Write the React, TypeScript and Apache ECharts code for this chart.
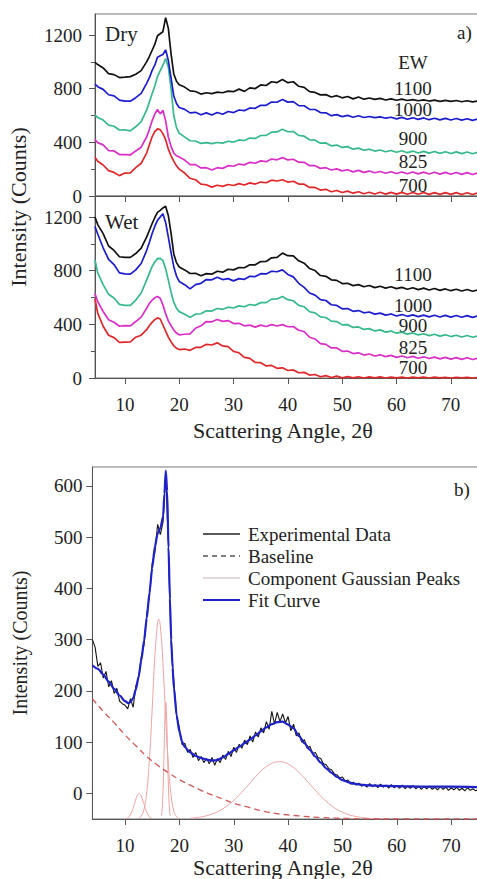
import { useEffect, useRef } from 'react';
import * as echarts from 'echarts';

const FONT = 'Liberation Serif';

// ---------- panel a: common angle samples ----------
const xA = [
  4.5, 5, 6, 7, 8, 9, 10, 11, 12, 13,
  14, 14.5, 15, 15.5, 16, 16.5, 17, 17.5, 18, 18.5, 19, 19.5, 20,
  21, 22, 23, 24, 25, 26, 27, 28, 29, 30,
  31, 32, 33, 34, 35, 36, 37, 38, 39, 40,
  41, 42, 43, 44, 45, 46, 47, 48, 49, 50,
  51, 52, 53, 54, 55, 56, 57, 58, 59, 60,
  61, 62, 63, 64, 65, 66, 67, 68, 69, 70,
  71, 72, 73, 74, 75,
];

const ewLabels = ['1100', '1000', '900', '825', '700'];
const ewColors = ['#111111', '#1c1ccf', '#36b98a', '#d92fc6', '#e0282a'];

const dry1100 = [
  996, 980, 955, 912, 905, 883, 886, 890, 908, 935,
  1000, 1040, 1085, 1130, 1195, 1210, 1225, 1330, 1250, 1060, 910, 855, 830,
  812, 784, 779, 760, 770, 763, 774, 770, 782, 778,
  797, 780, 806, 801, 828, 824, 852, 846, 868, 845,
  852, 818, 810, 778, 772, 754, 756, 738, 748, 732,
  742, 724, 738, 722, 731, 720, 728, 716, 724, 714,
  722, 712, 719, 710, 717, 708, 715, 706, 713, 705,
  712, 703, 710, 702, 708,
];
const dry1000 = [
  835, 815, 795, 755, 746, 715, 707, 707, 733, 765,
  840, 880, 935, 975, 1035, 1045, 1055, 1090, 1010, 880, 745, 690, 660,
  646, 620, 624, 606, 620, 604, 623, 610, 630, 622,
  641, 636, 656, 654, 676, 676, 701, 699, 720, 700,
  704, 674, 673, 646, 645, 622, 620, 599, 607, 592,
  601, 587, 598, 585, 593, 584, 590, 580, 587, 575,
  586, 572, 583, 571, 582, 569, 580, 568, 579, 567,
  578, 566, 576, 564, 575,
];
const dry900 = [
  605, 585, 566, 529, 520, 492, 494, 486, 516, 554,
  640, 700, 760, 820, 890, 935, 975, 1025, 960, 800, 600, 510, 468,
  441, 412, 410, 392, 398, 390, 399, 394, 408, 402,
  418, 414, 432, 429, 451, 452, 476, 478, 498, 479,
  481, 452, 446, 419, 416, 394, 396, 374, 380, 362,
  368, 349, 357, 341, 349, 335, 343, 330, 339, 326,
  337, 323, 335, 321, 333, 320, 332, 318, 330, 317,
  329, 316, 328, 315, 327,
];
const dry825 = [
  420, 398, 381, 339, 336, 309, 309, 306, 336, 364,
  440, 495, 560, 610, 645, 612, 640, 560, 440, 370, 320, 300, 290,
  268, 234, 234, 209, 211, 194, 211, 206, 226, 222,
  238, 232, 251, 244, 262, 256, 276, 270, 286, 269,
  274, 252, 251, 226, 226, 206, 211, 194, 202, 187,
  196, 180, 191, 176, 186, 173, 183, 170, 181, 168,
  179, 166, 179, 165, 178, 164, 177, 163, 176, 162,
  175, 161, 174, 160, 173,
];
const dry700 = [
  290, 259, 231, 189, 176, 152, 171, 172, 211, 244,
  320, 380, 440, 480, 500, 495, 465, 420, 350, 300, 260, 225, 200,
  171, 132, 121, 89, 84, 66, 80, 72, 86, 78,
  92, 82, 98, 89, 104, 99, 118, 112, 121, 104,
  110, 89, 88, 64, 64, 44, 50, 32, 41, 26,
  36, 21, 32, 17, 28, 15, 28, 14, 27, 14,
  27, 13, 26, 13, 26, 12, 25, 12, 25, 12,
  25, 11, 24, 11, 24,
];

const wet1100 = [
  1200, 1144, 1076, 984, 951, 904, 899, 899, 928, 969,
  1050, 1100, 1150, 1195, 1235, 1250, 1268, 1280, 1210, 1080, 925, 860, 828,
  806, 779, 781, 762, 778, 774, 796, 789, 811, 806,
  824, 822, 844, 844, 868, 869, 896, 899, 931, 912,
  911, 874, 856, 816, 801, 764, 758, 732, 728, 704,
  706, 689, 696, 680, 690, 674, 684, 670, 680, 666,
  676, 662, 673, 659, 670, 656, 667, 653, 664, 651,
  662, 649, 660, 647, 658,
];
const wet1000 = [
  1130, 1074, 971, 884, 846, 784, 776, 774, 806, 854,
  950, 1010, 1075, 1130, 1175, 1200, 1225, 1160, 1050, 935, 830, 760, 720,
  696, 664, 696, 706, 734, 732, 751, 734, 741, 724,
  741, 736, 758, 756, 778, 776, 796, 792, 806, 772,
  754, 706, 676, 634, 618, 584, 578, 546, 541, 516,
  518, 497, 503, 486, 492, 476, 484, 469, 477, 462,
  473, 460, 471, 458, 469, 456, 468, 455, 467, 454,
  466, 453, 465, 452, 464,
];
const wet900 = [
  880, 784, 696, 624, 596, 549, 541, 542, 581, 634,
  730, 780, 830, 865, 890, 892, 875, 815, 730, 640, 565, 520, 495,
  476, 452, 476, 479, 501, 499, 518, 512, 528, 522,
  538, 531, 548, 542, 562, 562, 588, 589, 608, 584,
  576, 542, 531, 494, 486, 456, 451, 424, 421, 396,
  398, 377, 381, 362, 368, 351, 359, 342, 350, 334,
  342, 327, 336, 321, 330, 316, 326, 312, 322, 309,
  319, 306, 317, 304, 315,
];
const wet825 = [
  630, 569, 496, 434, 416, 386, 390, 389, 421, 454,
  520, 555, 580, 598, 608, 595, 545, 480, 425, 390, 358, 335, 322,
  326, 329, 371, 389, 421, 419, 436, 422, 428, 406,
  408, 389, 394, 379, 394, 384, 398, 388, 398, 382,
  384, 356, 346, 304, 291, 256, 251, 224, 224, 199,
  201, 182, 188, 171, 179, 164, 173, 159, 169, 154,
  164, 151, 161, 147, 158, 145, 156, 143, 154, 141,
  152, 139, 151, 138, 149,
];
const wet700 = [
  590, 484, 386, 319, 301, 266, 268, 269, 304, 319,
  360, 390, 415, 435, 448, 440, 395, 350, 305, 270, 240, 222, 212,
  216, 206, 228, 229, 251, 246, 262, 239, 234, 199,
  188, 154, 146, 116, 114, 90, 94, 72, 76, 56,
  60, 39, 42, 22, 26, 9, 18, 4, 14, 1,
  10, 1, 9, 0, 8, 1, 8, 0, 7, 1,
  7, 0, 6, 1, 6, 0, 6, 1, 5, 0,
  5, 1, 5, 0, 4,
];

const drySeries = [dry1100, dry1000, dry900, dry825, dry700];
const wetSeries = [wet1100, wet1000, wet900, wet825, wet700];

// ---------- panel b ----------
const expX = [
  4, 4.5, 5, 5.5, 6, 6.5, 7, 7.5, 8, 8.5,
  9, 9.5, 10, 10.5, 11, 11.5, 12, 12.5, 13, 13.5,
  14, 14.5, 15, 15.5, 16, 16.5, 17, 17.5, 18, 18.5,
  19, 19.5, 20, 20.5, 21, 21.5, 22, 22.5, 23, 23.5,
  24, 24.5, 25, 25.5, 26, 26.5, 27, 27.5, 28, 28.5,
  29, 29.5, 30, 30.5, 31, 31.5, 32, 32.5, 33, 33.5,
  34, 34.5, 35, 35.5, 36, 36.5, 37, 37.5, 38, 38.5,
  39, 39.5, 40, 40.5, 41, 41.5, 42, 42.5, 43, 43.5,
  44, 44.5, 45, 45.5, 46, 46.5, 47, 47.5, 48, 48.5,
  49, 49.5, 50, 50.5, 51, 51.5, 52, 52.5, 53, 53.5,
  54, 54.5, 55, 55.5, 56, 56.5, 57, 57.5, 58, 58.5,
  59, 59.5, 60, 60.5, 61, 61.5, 62, 62.5, 63, 63.5,
  64, 64.5, 65, 65.5, 66, 66.5, 67, 67.5, 68, 68.5,
  69, 69.5, 70, 70.5, 71, 71.5, 72, 72.5, 73, 73.5,
  74, 74.5, 75,
];
const expY = [
  300, 285, 248, 255, 225, 238, 208, 220, 195, 205,
  180, 175, 172, 165, 185, 168, 210, 225, 268, 290,
  350, 385, 450, 470, 525, 505, 530, 625, 475, 290,
  215, 150, 128, 95, 98, 80, 86, 70, 80, 64,
  72, 60, 68, 58, 70, 55, 68, 60, 75, 66,
  82, 72, 90, 80, 96, 88, 104, 95, 112, 100,
  120, 110, 128, 118, 140, 125, 160, 135, 158, 140,
  155, 138, 150, 122, 135, 112, 118, 100, 105, 88,
  92, 78, 80, 70, 68, 58, 56, 48, 46, 38,
  36, 30, 32, 24, 26, 18, 22, 16, 20, 14,
  18, 12, 19, 13, 17, 11, 18, 12, 16, 10,
  17, 11, 15, 10, 16, 9, 14, 10, 15, 9,
  14, 8, 13, 9, 14, 8, 12, 7, 13, 8,
  12, 6, 11, 7, 12, 6, 10, 5, 11, 6,
  9, 5, 8,
];

const fitX = [
  4, 5, 6, 7, 8, 9, 10, 10.6, 11, 11.5, 12, 12.5, 13, 13.5,
  14, 14.5, 15, 15.5, 16, 16.5, 17, 17.25, 17.5, 17.75,
  18, 18.25, 18.5, 18.75, 19, 19.5, 20, 20.5, 21,
  22, 23, 24, 25, 26, 27, 28, 29, 30, 31,
  32, 33, 34, 35, 36, 37, 38, 39, 40, 41,
  42, 43, 44, 45, 46, 47, 48, 49, 50, 51,
  52, 54, 56, 60, 65, 70, 75,
];
const fitY = [
  250, 243, 232, 218, 204, 191, 180, 176, 178, 186, 203, 228, 260, 298,
  342, 392, 440, 482, 507, 518, 540, 585, 630, 590,
  480, 380, 300, 245, 205, 152, 120, 101, 90,
  80, 73, 69, 66, 64, 65, 70, 77, 84, 91,
  98, 105, 113, 121, 129, 135, 139, 140, 134, 127,
  112, 98, 85, 72, 60, 49, 40, 32, 26, 22,
  19, 16, 15, 14, 13, 13, 12,
];

const baseX = [4, 6, 8, 10, 12, 14, 16, 18, 20, 22, 24, 26, 28, 30, 33, 36, 39, 42, 46, 51, 56, 60, 75];
const baseY = [185, 160, 138, 114, 93, 72, 55, 40, 27, 16, 6, -3, -11, -19, -28, -36, -41, -44, -47, -49, -50, -50, -50];

const peak1X = [10, 10.5, 11, 11.5, 12, 12.3, 12.6, 12.9, 13, 13.5, 14, 14.5, 15];
const peak1Y = [-49.5, -47.6, -41.5, -28.4, -11, -3, 0, -3, -5.2, -21.4, -37, -45.9, -49.1];
const peak2X = [12.5, 13, 13.5, 14, 14.5, 15, 15.5, 16, 16.2, 16.5, 17, 17.5, 18, 18.5, 19, 19.5, 20];
const peak2Y = [-48.6, -44.3, -30.9, 2.8, 68, 165, 269, 334, 340, 326, 250, 144, 52, -6.3, -34.8, -45.7, -49];
const peak3X = [16.7, 16.8, 17.0, 17.2, 17.35, 17.5, 17.65, 17.8, 18.0, 18.2, 18.3];
const peak3Y = [-43.5, -35, 6.8, 88, 151, 178, 151, 88, 6.8, -35, -43.5];
const peak4X = [22, 24, 26, 28, 30, 32, 34, 36, 38.4, 40, 42, 44, 46, 48, 50, 52, 54, 56, 58];
const peak4Y = [-48.5, -45.9, -40.4, -30, -13.6, 8.3, 32.2, 52.2, 62, 57.5, 41, 18, -5.4, -24.2, -36.9, -44.1, -47.7, -49.2, -49.8];

const xTicks = [10, 20, 30, 40, 50, 60, 70];
const yTicksA = [0, 400, 800, 1200];
const yMinorA = [200, 600, 1000];
const yTicksB = [0, 100, 200, 300, 400, 500, 600];

const legendItems = ['Experimental Data', 'Baseline', 'Component Gaussian Peaks', 'Fit Curve'];

const pairs = (xs: number[], ys: number[]) => xs.map((x, i) => [x, ys[i]]);

const AX = '#555';
const TXT = '#222';
const plain = (v: number) => String(v);

function xAxisCfg(grid: number, min: number, showLabel: boolean) {
  return {
    type: 'value', gridIndex: grid, min, max: 75, position: 'bottom',
    axisLine: { show: true, onZero: false, lineStyle: { color: AX, width: 1 } },
    axisTick: { show: true, inside: false, length: 6, customValues: xTicks, lineStyle: { color: AX } },
    axisLabel: { show: showLabel, customValues: xTicks, formatter: plain, margin: 17, fontFamily: FONT, fontSize: 19, color: TXT },
    splitLine: { show: false },
  };
}
function yAxisCfg(grid: number, min: number, max: number, ticks: number[], margin: number) {
  return {
    type: 'value', gridIndex: grid, min, max, position: 'left',
    axisLine: { show: true, onZero: false, lineStyle: { color: AX, width: 1 } },
    axisTick: { show: true, inside: false, length: 6, customValues: ticks, lineStyle: { color: AX } },
    axisLabel: { show: true, customValues: ticks, formatter: plain, margin, fontFamily: FONT, fontSize: 19, color: TXT },
    splitLine: { show: false },
  };
}
function yMinorCfg(grid: number, min: number, max: number, ticks: number[]) {
  return {
    type: 'value', gridIndex: grid, min, max, position: 'left',
    axisLine: { show: false },
    axisTick: { show: true, inside: false, length: 4, customValues: ticks, lineStyle: { color: AX } },
    axisLabel: { show: false },
    splitLine: { show: false },
  };
}

function txt(text: string, x: number, y: number, size: number, align = 'left', extra: any = {}) {
  return {
    type: 'text', x, y, ...extra,
    style: {
      text, fontFamily: FONT, fontSize: size, fill: TXT,
      textAlign: align, align, textVerticalAlign: 'middle', verticalAlign: 'middle',
    },
  };
}

export default function App() {
  const ref = useRef<HTMLDivElement>(null);
  useEffect(() => {
    const chart = echarts.init(ref.current!, null, { renderer: 'svg', width: 477, height: 879 });

    const series: any[] = [];
    [4, 3, 2, 1, 0].forEach((k) => {
      series.push({
        type: 'line', xAxisIndex: 0, yAxisIndex: 0, data: pairs(xA, drySeries[k]),
        showSymbol: false, symbol: 'none', lineStyle: { color: ewColors[k], width: 1.7 }, z: 3,
      });
      series.push({
        type: 'line', xAxisIndex: 1, yAxisIndex: 2, data: pairs(xA, wetSeries[k]),
        showSymbol: false, symbol: 'none', lineStyle: { color: ewColors[k], width: 1.7 }, z: 3,
      });
    });
    const gauss = (xs: number[], ys: number[]) => ({
      type: 'line', xAxisIndex: 2, yAxisIndex: 4, data: pairs(xs, ys), showSymbol: false, symbol: 'none',
      smooth: 0.4, lineStyle: { color: '#f0a4a4', width: 1 }, z: 2,
    });
    series.push(gauss(peak1X, peak1Y), gauss(peak2X, peak2Y), gauss(peak3X, peak3Y), gauss(peak4X, peak4Y));
    series.push({
      type: 'line', xAxisIndex: 2, yAxisIndex: 4, data: pairs(baseX, baseY), showSymbol: false, symbol: 'none',
      smooth: 0.4, lineStyle: { color: '#d05a5a', width: 1.3, type: [6, 4] }, z: 2,
    });
    series.push({
      type: 'line', xAxisIndex: 2, yAxisIndex: 4, data: pairs(expX, expY), showSymbol: false, symbol: 'none',
      lineStyle: { color: '#151515', width: 1.1 }, z: 3,
    });
    series.push({
      type: 'line', xAxisIndex: 2, yAxisIndex: 4, data: pairs(fitX, fitY), showSymbol: false, symbol: 'none',
      smooth: 0.25, smoothMonotone: 'x', lineStyle: { color: '#1e22c8', width: 2.2 }, z: 4,
    });

    const dryLabelY = [88, 109, 138, 161.5, 185];
    const wetLabelY = [274, 305, 325, 347.5, 367.5];
    const legendY = [534, 556, 578, 600];
    const legendStyles = [
      { stroke: '#222', lineWidth: 1.5 },
      { stroke: '#555', lineWidth: 1.5, lineDash: [5, 4] },
      { stroke: '#c8b0b0', lineWidth: 1 },
      { stroke: '#1e22c8', lineWidth: 2 },
    ];

    const graphics: any[] = [
      txt('Dry', 105, 34, 21),
      txt('Wet', 105, 222, 21),
      txt('a)', 457, 32, 19),
      txt('EW', 413, 62, 19, 'center'),
      ...ewLabels.map((l, i) => txt(l, 413, dryLabelY[i], 19, 'center')),
      ...ewLabels.map((l, i) => txt(l, 413, wetLabelY[i], 19, 'center')),
      txt('b)', 454, 489, 19),
      txt('Scattering Angle, 2\u03b8', 283, 430, 22, 'center'),
      txt('Scattering Angle, 2\u03b8', 283, 867, 22, 'center'),
      txt('Intensity (Counts)', 18, 207, 22, 'center', { rotation: Math.PI / 2 }),
      txt('Intensity (Counts)', 20, 643, 20, 'center', { rotation: Math.PI / 2 }),
      ...legendItems.map((l, i) => ({
        type: 'line', shape: { x1: 203, y1: legendY[i], x2: 240, y2: legendY[i] }, style: legendStyles[i],
      })),
      ...legendItems.map((l, i) => txt(l, 248, legendY[i], 19)),
    ];

    chart.setOption({
      animation: false,
      backgroundColor: '#ffffff',
      grid: [
        { left: 95, top: 14, width: 383, height: 182, show: true, borderColor: '#777', borderWidth: 1, outerBoundsMode: 'none' },
        { left: 95, top: 196, width: 383, height: 182, show: true, borderColor: '#777', borderWidth: 1, outerBoundsMode: 'none' },
        { left: 92.4, top: 467, width: 386, height: 352, show: true, borderColor: '#777', borderWidth: 1, outerBoundsMode: 'none' },
      ],
      xAxis: [xAxisCfg(0, 4.5, false), xAxisCfg(1, 4.5, true), xAxisCfg(2, 4, true)],
      yAxis: [
        yAxisCfg(0, 0, 1357, yTicksA, 13),
        yMinorCfg(0, 0, 1357, yMinorA),
        yAxisCfg(1, 0, 1357, yTicksA, 13),
        yMinorCfg(1, 0, 1357, yMinorA),
        yAxisCfg(2, -50, 637, yTicksB, 10),
      ],
      series,
      graphic: graphics,
    });
    return () => chart.dispose();
  }, []);
  return (
    <div
      ref={ref}
      style={{ position: 'fixed', left: 0, top: 0, width: 477, height: 879, background: '#fff' }}
    />
  );
}
